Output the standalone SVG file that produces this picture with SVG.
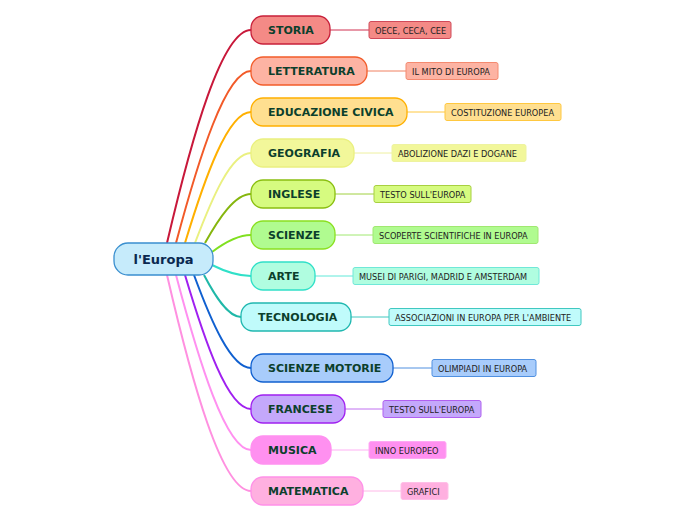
<svg xmlns="http://www.w3.org/2000/svg" width="696" height="520" viewBox="0 0 696 520">
<style>
.m{font-family:"DejaVu Sans","Liberation Sans",sans-serif;font-weight:bold;font-size:11px;fill:#0c3f2c}
.s{font-family:"DejaVu Sans","Liberation Sans",sans-serif;font-size:8.2px;fill:#222}
.c{fill:none;stroke-width:2}
.l{fill:none;stroke-width:1}
.mn{stroke-width:1.3}
.sn{stroke-width:1}
</style>
<rect width="696" height="520" fill="#fff"/>
<g id="connectors">
<path class="c" stroke="#c8183a" d="M167,243 C192,136 222,30 251,30"/>
<path class="c" stroke="#f25a28" d="M176,243 C199,157 226,71 251,71"/>
<path class="c" stroke="#ffb000" d="M185,243 C205,177 228,112 251,112"/>
<path class="c" stroke="#eaf080" d="M195,243 C212,198 231,153 251,153"/>
<path class="c" stroke="#86b60e" d="M205,243 C219,218 235,194 251,194"/>
<path class="c" stroke="#80e020" d="M212,252 C224,243 238,235 251,235"/>
<path class="c" stroke="#30e0c8" d="M212,265 C224,271 238,276 251,276"/>
<path class="c" stroke="#20b8a8" d="M204,275 C215,296 228,317 241,317"/>
<path class="c" stroke="#1060d0" d="M194,275 C211,321 231,368 251,368"/>
<path class="c" stroke="#a020f0" d="M185,275 C205,342 228,409 251,409"/>
<path class="c" stroke="#ff90f0" d="M176,275 C199,362 226,450 251,450"/>
<path class="c" stroke="#ff90e0" d="M167,275 C192,383 222,491 251,491"/>
<path class="l" stroke="#d03050" d="M330,30 H369"/>
<path class="l" stroke="#f08060" d="M367,71 H406"/>
<path class="l" stroke="#ffc840" d="M407,112 H445"/>
<path class="l" stroke="#eef0a0" d="M354,153 H392"/>
<path class="l" stroke="#a0d040" d="M335,194 H374"/>
<path class="l" stroke="#a0e870" d="M335,235 H373"/>
<path class="l" stroke="#60e8d8" d="M315,276 H353"/>
<path class="l" stroke="#40c8c0" d="M351,317 H389"/>
<path class="l" stroke="#5090e0" d="M393,368 H432"/>
<path class="l" stroke="#c070f0" d="M345,409 H383"/>
<path class="l" stroke="#ffb0f4" d="M331,450 H369"/>
<path class="l" stroke="#ffb8e8" d="M363,491 H401"/>
</g>
<g id="root">
<rect x="114" y="243" width="99" height="32" rx="14" fill="#c6ebfb" stroke="#3a8fcf" stroke-width="1.3"/>
<text x="163.5" y="264" text-anchor="middle" font-family="DejaVu Sans, Liberation Sans, sans-serif" font-weight="bold" font-size="13" fill="#0a2850">l'Europa</text>
</g>
<g id="storia">
<rect class="mn" x="251" y="16" width="79" height="28" rx="12" fill="#f48a86" stroke="#c8203a"/>
<text class="m" x="268" y="34">STORIA</text>
<rect class="sn" x="369" y="21.5" width="82" height="17" rx="2" fill="#f48a86" stroke="#d04a5a"/>
<text class="s" x="375" y="33.5">OECE, CECA, CEE</text>
</g>
<g id="letteratura">
<rect class="mn" x="251" y="57" width="116" height="28" rx="12" fill="#fdb3a3" stroke="#f25c2a"/>
<text class="m" x="268" y="75">LETTERATURA</text>
<rect class="sn" x="406" y="62.5" width="92" height="17" rx="2" fill="#fdb3a3" stroke="#f48a70"/>
<text class="s" x="412" y="74.5">IL MITO DI EUROPA</text>
</g>
<g id="educazione">
<rect class="mn" x="251" y="98" width="156" height="28" rx="12" fill="#ffdf90" stroke="#ffb000"/>
<text class="m" x="268" y="116">EDUCAZIONE CIVICA</text>
<rect class="sn" x="445" y="103.5" width="116" height="17" rx="2" fill="#ffdf90" stroke="#ffc840"/>
<text class="s" x="451" y="115.5">COSTITUZIONE EUROPEA</text>
</g>
<g id="geografia">
<rect class="mn" x="251" y="139" width="103" height="28" rx="12" fill="#f2f79a" stroke="#eaf080"/>
<text class="m" x="268" y="157">GEOGRAFIA</text>
<rect class="sn" x="392" y="144.5" width="134" height="17" rx="2" fill="#f2f79a" stroke="#eef3a0"/>
<text class="s" x="398" y="156.5">ABOLIZIONE DAZI E DOGANE</text>
</g>
<g id="inglese">
<rect class="mn" x="251" y="180" width="84" height="28" rx="12" fill="#d6fb80" stroke="#8abf10"/>
<text class="m" x="268" y="198">INGLESE</text>
<rect class="sn" x="374" y="185.5" width="97" height="17" rx="2" fill="#d6fb80" stroke="#a8d040"/>
<text class="s" x="380" y="197.5">TESTO SULL'EUROPA</text>
</g>
<g id="scienze">
<rect class="mn" x="251" y="221" width="84" height="28" rx="12" fill="#b0fb90" stroke="#8ae020"/>
<text class="m" x="268" y="239">SCIENZE</text>
<rect class="sn" x="373" y="226.5" width="165" height="17" rx="2" fill="#b0fb90" stroke="#a0e870"/>
<text class="s" x="379" y="238.5">SCOPERTE SCIENTIFICHE IN EUROPA</text>
</g>
<g id="arte">
<rect class="mn" x="251" y="262" width="64" height="28" rx="12" fill="#b0fde0" stroke="#30e0c8"/>
<text class="m" x="268" y="280">ARTE</text>
<rect class="sn" x="353" y="267.5" width="186" height="17" rx="2" fill="#b0fde0" stroke="#70e8d8"/>
<text class="s" x="359" y="279.5">MUSEI DI PARIGI, MADRID E AMSTERDAM</text>
</g>
<g id="tecnologia">
<rect class="mn" x="241" y="303" width="110" height="28" rx="12" fill="#c0fbfb" stroke="#20b8b0"/>
<text class="m" x="258" y="321">TECNOLOGIA</text>
<rect class="sn" x="389" y="308.5" width="192" height="17" rx="2" fill="#c0fbfb" stroke="#40c8c0"/>
<text class="s" x="395" y="320.5">ASSOCIAZIONI IN EUROPA PER L'AMBIENTE</text>
</g>
<g id="scienze-motorie">
<rect class="mn" x="251" y="354" width="142" height="28" rx="12" fill="#a8ccfb" stroke="#1060d0"/>
<text class="m" x="268" y="372">SCIENZE MOTORIE</text>
<rect class="sn" x="432" y="359.5" width="104" height="17" rx="2" fill="#a8ccfb" stroke="#5090e0"/>
<text class="s" x="438" y="371.5">OLIMPIADI IN EUROPA</text>
</g>
<g id="francese">
<rect class="mn" x="251" y="395" width="94" height="28" rx="12" fill="#c4a8fb" stroke="#a020f0"/>
<text class="m" x="268" y="413">FRANCESE</text>
<rect class="sn" x="383" y="400.5" width="98" height="17" rx="2" fill="#c4a8fb" stroke="#b060f0"/>
<text class="s" x="389" y="412.5">TESTO SULL'EUROPA</text>
</g>
<g id="musica">
<rect class="mn" x="251" y="436" width="80" height="28" rx="12" fill="#ff90f0" stroke="#ff90f0"/>
<text class="m" x="268" y="454">MUSICA</text>
<rect class="sn" x="369" y="441.5" width="77" height="17" rx="2" fill="#ff90f0" stroke="#ffa8f4"/>
<text class="s" x="375" y="453.5">INNO EUROPEO</text>
</g>
<g id="matematica">
<rect class="mn" x="251" y="477" width="112" height="28" rx="12" fill="#ffb0e0" stroke="#ff90e8"/>
<text class="m" x="268" y="495">MATEMATICA</text>
<rect class="sn" x="401" y="482.5" width="47" height="17" rx="2" fill="#ffb0e0" stroke="#ffc0e8"/>
<text class="s" x="407" y="494.5">GRAFICI</text>
</g>
</svg>
